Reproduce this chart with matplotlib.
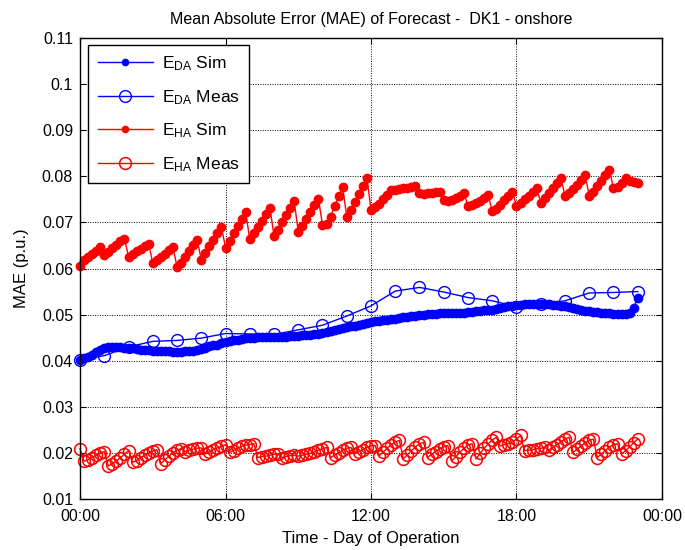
"""Mean absolute error of DA / HA forecasts over one day (DK1 onshore)."""

import matplotlib

matplotlib.use("Agg")
import matplotlib.pyplot as plt
import numpy as np

plt.rcParams["font.family"] = ["Liberation Sans", "DejaVu Sans"]
plt.rcParams["mathtext.fontset"] = "custom"
plt.rcParams["mathtext.rm"] = "Liberation Sans"
plt.rcParams["mathtext.default"] = "regular"

# hourly measured errors (t = 0 .. 23 h)
hours_meas = list(range(24))
e_da_meas = [0.0402, 0.0411, 0.0430, 0.0442, 0.0444, 0.0449, 0.0459, 0.0458,
             0.0457, 0.0467, 0.0477, 0.0497, 0.0519, 0.0551, 0.0559, 0.0549,
             0.0537, 0.0530, 0.0517, 0.0523, 0.0530, 0.0547, 0.0548, 0.0550]

# 10-minute series, 00:00 .. 23:00 (6 values per hour + last point)
e_da_sim = [
    0.0402, 0.0405, 0.0408, 0.0412, 0.0418, 0.0424,
    0.0428, 0.0429, 0.0429, 0.0429, 0.0429, 0.0428,
    0.0428, 0.0427, 0.0425, 0.0424, 0.0423, 0.0423,
    0.0422, 0.0421, 0.0421, 0.0420, 0.0420, 0.0419,
    0.0419, 0.0419, 0.0420, 0.0421, 0.0422, 0.0424,
    0.0426, 0.0428, 0.0431, 0.0433, 0.0435, 0.0438,
    0.0440, 0.0442, 0.0444, 0.0446, 0.0448, 0.0449,
    0.0450, 0.0450, 0.0451, 0.0451, 0.0451, 0.0451,
    0.0451, 0.0451, 0.0452, 0.0452, 0.0453, 0.0453,
    0.0454, 0.0455, 0.0455, 0.0456, 0.0457, 0.0458,
    0.0460, 0.0462, 0.0465, 0.0467, 0.0469, 0.0471,
    0.0473, 0.0475, 0.0476, 0.0478, 0.0480, 0.0482,
    0.0484, 0.0486, 0.0487, 0.0488, 0.0489, 0.0490,
    0.0491, 0.0492, 0.0494, 0.0495, 0.0496, 0.0498,
    0.0499, 0.0500, 0.0501, 0.0502, 0.0502, 0.0503,
    0.0503, 0.0503, 0.0503, 0.0503, 0.0504, 0.0504,
    0.0505, 0.0506, 0.0507, 0.0508, 0.0509, 0.0510,
    0.0511, 0.0513, 0.0514, 0.0516, 0.0518, 0.0519,
    0.0521, 0.0521, 0.0522, 0.0522, 0.0522, 0.0523,
    0.0523, 0.0523, 0.0522, 0.0521, 0.0520, 0.0519,
    0.0518, 0.0516, 0.0514, 0.0512, 0.0510, 0.0508,
    0.0507, 0.0506, 0.0505, 0.0504, 0.0503, 0.0503,
    0.0502, 0.0502, 0.0502, 0.0502, 0.0503, 0.0515,
    0.0537,
]

e_ha_sim = [
    0.0605, 0.0618, 0.0626, 0.0632, 0.0638, 0.0646,
    0.0630, 0.0636, 0.0645, 0.0652, 0.0660, 0.0665,
    0.0626, 0.0632, 0.0638, 0.0643, 0.0648, 0.0653,
    0.0612, 0.0618, 0.0625, 0.0632, 0.0640, 0.0646,
    0.0604, 0.0612, 0.0625, 0.0638, 0.0650, 0.0662,
    0.0619, 0.0633, 0.0648, 0.0662, 0.0677, 0.0690,
    0.0645, 0.0660, 0.0676, 0.0692, 0.0708, 0.0722,
    0.0663, 0.0676, 0.0690, 0.0704, 0.0718, 0.0732,
    0.0670, 0.0684, 0.0700, 0.0716, 0.0732, 0.0746,
    0.0680, 0.0693, 0.0707, 0.0722, 0.0737, 0.0751,
    0.0694, 0.0697, 0.0712, 0.0735, 0.0757, 0.0776,
    0.0712, 0.0728, 0.0745, 0.0762, 0.0780, 0.0797,
    0.0727, 0.0733, 0.0740, 0.0750, 0.0760, 0.0770,
    0.0770, 0.0772, 0.0774, 0.0775, 0.0777, 0.0779,
    0.0764, 0.0762, 0.0763, 0.0764, 0.0766, 0.0767,
    0.0748, 0.0747, 0.0749, 0.0753, 0.0758, 0.0764,
    0.0735, 0.0737, 0.0742, 0.0747, 0.0753, 0.0759,
    0.0724, 0.0729, 0.0738, 0.0748, 0.0758, 0.0767,
    0.0735, 0.0742, 0.0750, 0.0758, 0.0766, 0.0774,
    0.0743, 0.0752, 0.0763, 0.0774, 0.0785, 0.0796,
    0.0757, 0.0763, 0.0772, 0.0782, 0.0792, 0.0802,
    0.0757, 0.0766, 0.0778, 0.0790, 0.0802, 0.0814,
    0.0774, 0.0777, 0.0785, 0.0797, 0.0790, 0.0787,
    0.0786,
]

e_ha_meas = [
    0.0209, 0.0182, 0.0185, 0.0190, 0.0195, 0.0200,
    0.0203, 0.0172, 0.0176, 0.0182, 0.0190, 0.0197,
    0.0205, 0.0180, 0.0183, 0.0190, 0.0195, 0.0200,
    0.0204, 0.0207, 0.0177, 0.0185, 0.0193, 0.0200,
    0.0206, 0.0209, 0.0203, 0.0206, 0.0208, 0.0210,
    0.0211, 0.0198, 0.0202, 0.0207, 0.0211, 0.0214,
    0.0218, 0.0201, 0.0205, 0.0210, 0.0214, 0.0217,
    0.0218, 0.0220, 0.0190, 0.0192, 0.0193, 0.0195,
    0.0197, 0.0198, 0.0190, 0.0192, 0.0194, 0.0195,
    0.0193, 0.0195, 0.0197, 0.0199, 0.0202, 0.0206,
    0.0209, 0.0212, 0.0190, 0.0195, 0.0200, 0.0206,
    0.0210, 0.0212, 0.0198, 0.0203, 0.0207, 0.0212,
    0.0215, 0.0216, 0.0194, 0.0202, 0.0210, 0.0218,
    0.0224, 0.0227, 0.0187, 0.0196, 0.0205, 0.0213,
    0.0220, 0.0223, 0.0190, 0.0197, 0.0203, 0.0209,
    0.0213, 0.0216, 0.0183, 0.0192, 0.0201, 0.0210,
    0.0217, 0.0220, 0.0187, 0.0199, 0.0210, 0.0220,
    0.0228, 0.0234, 0.0215, 0.0218, 0.0220, 0.0223,
    0.0230, 0.0238, 0.0205, 0.0206, 0.0207, 0.0209,
    0.0210, 0.0212, 0.0206, 0.0212, 0.0218, 0.0224,
    0.0230, 0.0234, 0.0201, 0.0208, 0.0215, 0.0222,
    0.0227, 0.0230, 0.0190, 0.0198, 0.0205, 0.0213,
    0.0218, 0.0220, 0.0198, 0.0205, 0.0213, 0.0222,
    0.0230,
]

t_sim = np.arange(len(e_da_sim)) / 6.0

xticks = [0, 6, 12, 18, 24]
xticklabels = ["00:00", "06:00", "12:00", "18:00", "00:00"]
yticks = [0.01, 0.02, 0.03, 0.04, 0.05, 0.06, 0.07, 0.08, 0.09, 0.10, 0.11]
yticklabels = ["0.01", "0.02", "0.03", "0.04", "0.05", "0.06", "0.07",
               "0.08", "0.09", "0.1", "0.11"]

fig = plt.figure(figsize=(6.85, 5.5), dpi=100)
ax = fig.add_axes([0.1168, 0.0927, 0.8496, 0.8382])

ax.plot(t_sim, e_da_sim, "-o", color="b", lw=1, ms=6, label=r"$E_{DA}$ Sim", clip_on=False)
ax.plot(hours_meas, e_da_meas, "-o", color="b", lw=1, ms=8.5, mfc="none", mew=1,
        label=r"$E_{DA}$ Meas", clip_on=False)
ax.plot(t_sim, e_ha_sim, "-o", color="r", lw=1, ms=6, label=r"$E_{HA}$ Sim", clip_on=False)
ax.plot(t_sim, e_ha_meas, "-o", color="r", lw=1, ms=8.5, mfc="none", mew=1.1,
        label=r"$E_{HA}$ Meas", clip_on=False)

ax.set_xlim(0, 24)
ax.set_ylim(0.01, 0.11)
ax.set_xticks(xticks)
ax.set_xticklabels(xticklabels, fontsize=11.5)
ax.set_yticks(yticks)
ax.set_yticklabels(yticklabels, fontsize=11.5)
ax.tick_params(direction="in", length=4, top=True, right=True, width=0.8)
ax.tick_params(axis="x", pad=7)
ax.tick_params(axis="y", pad=5)
ax.grid(True, color="k", linestyle=(0, (1, 1.5)), linewidth=0.7)
for sp in ax.spines.values():
    sp.set_linewidth(1)

ax.set_title("Mean Absolute Error (MAE) of Forecast -  DK1 - onshore", fontsize=11.5, pad=10)
ax.set_xlabel("Time - Day of Operation", fontsize=12, labelpad=5)
ax.set_ylabel("MAE (p.u.)", fontsize=12, labelpad=9)

# legend handles: small dot markers for "Sim", open circles for "Meas"
leg = ax.legend(loc="upper left", bbox_to_anchor=(0.0137, 0.985), borderaxespad=0,
                fontsize=12.5, fancybox=False, framealpha=1, edgecolor="k",
                handlelength=3.2, handletextpad=0.5, labelspacing=0.85, borderpad=0.55)
leg.get_frame().set_linewidth(1)
for h, ms in zip(leg.legend_handles, [4.5, 8.5, 4.5, 8.5]):
    h.set_markersize(ms)

fig.savefig("out.png", dpi=100)
